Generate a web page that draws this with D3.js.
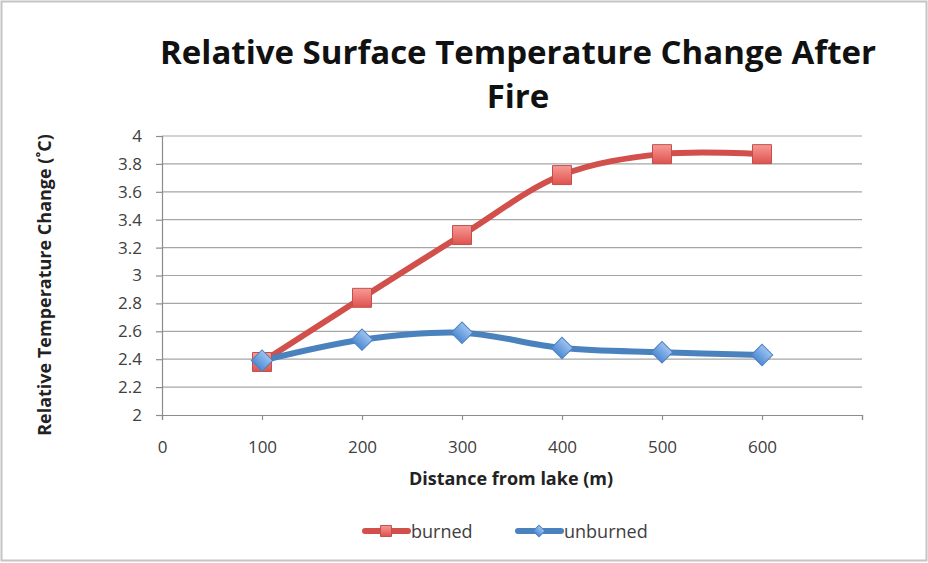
<!DOCTYPE html>
<html><head><meta charset="utf-8">
<script src="https://cdn.jsdelivr.net/npm/d3@7"></script>
<style>body{margin:0;background:#fff}svg{display:block}</style>
</head><body><svg id="c" width="928" height="563"></svg>
<script>
const distances = [100, 200, 300, 400, 500, 600];
const burned = [2.38, 2.84, 3.29, 3.72, 3.87, 3.87];
const unburned = [2.39, 2.54, 2.59, 2.48, 2.45, 2.43];
const xTicks = [0, 100, 200, 300, 400, 500, 600, 700];
const xTickLabels = ["0", "100", "200", "300", "400", "500", "600", ""];
const yTicks = [2, 2.2, 2.4, 2.6, 2.8, 3, 3.2, 3.4, 3.6, 3.8, 4];
const titleLines = ["Relative Surface Temperature Change After", "Fire"];

const svg = d3.select("#c");
const font = "'Open Sans', Lato, sans-serif";
const W = 928, H = 563;
const L = 162, R = 862, T = 136, B = 415;

svg.append("rect").attr("x", 1.5).attr("y", 1.5).attr("width", W - 3).attr("height", H - 4)
  .attr("fill", "#fff").attr("stroke", "#c4c4c4").attr("stroke-width", 2);

const x = d3.scaleLinear().domain([0, 700]).range([L, R]);
const y = d3.scaleLinear().domain([2, 4]).range([B, T]);

// gridlines
svg.append("g").selectAll("line").data(yTicks.slice(1)).join("line")
  .attr("x1", L).attr("x2", R).attr("y1", d => y(d)).attr("y2", d => y(d))
  .attr("stroke", "#a6a6a6").attr("stroke-width", 1.2);

// y axis
const ya = svg.append("g").attr("transform", `translate(${L},0)`)
  .call(d3.axisLeft(y).tickValues(yTicks).tickSize(6).tickPadding(14).tickFormat(d => String(+d.toFixed(1))));
ya.select(".domain").attr("stroke", "#8c8c8c").attr("stroke-width", 1.2);
ya.selectAll(".tick line").attr("stroke", "#8c8c8c").attr("stroke-width", 1.2);
ya.selectAll("text").attr("font-family", font).attr("font-size", 17).attr("fill", "#404040");

// x axis
const xa = svg.append("g").attr("transform", `translate(0,${B})`)
  .call(d3.axisBottom(x).tickValues(xTicks).tickSize(5).tickPadding(21).tickFormat((d, i) => xTickLabels[i]));
xa.select(".domain").attr("stroke", "#8c8c8c").attr("stroke-width", 1.2);
xa.selectAll(".tick line").attr("stroke", "#8c8c8c").attr("stroke-width", 1.2);
xa.selectAll("text").attr("font-family", font).attr("font-size", 17).attr("fill", "#404040");

// title
svg.append("g").selectAll("text").data(titleLines).join("text")
  .attr("x", 518).attr("y", (d, i) => 64 + i * 44)
  .attr("text-anchor", "middle").attr("font-family", font).attr("font-weight", "bold")
  .attr("font-size", 33).attr("fill", "#111").text(d => d);

// axis titles
svg.append("text").attr("transform", "translate(51,285) rotate(-90)")
  .attr("text-anchor", "middle").attr("font-family", font).attr("font-weight", "bold")
  .attr("font-size", 18).attr("fill", "#222").text("Relative Temperature Change (˚C)");
svg.append("text").attr("x", 511).attr("y", 485)
  .attr("text-anchor", "middle").attr("font-family", font).attr("font-weight", "bold")
  .attr("font-size", 18).attr("fill", "#222").text("Distance from lake (m)");

const defs = svg.append("defs");
const gR = defs.append("linearGradient").attr("id", "gr").attr("x1", 0).attr("y1", 0).attr("x2", 0).attr("y2", 1);
gR.append("stop").attr("offset", 0).attr("stop-color", "#f79a96");
gR.append("stop").attr("offset", 1).attr("stop-color", "#e0524d");
const gB = defs.append("linearGradient").attr("id", "gb").attr("x1", 0).attr("y1", 0).attr("x2", 0).attr("y2", 1);
gB.append("stop").attr("offset", 0).attr("stop-color", "#9cc3f0");
gB.append("stop").attr("offset", 1).attr("stop-color", "#4f8ad4");

const series = [
  {name: "burned", vals: burned, color: "#d2504b", marker: d3.symbolSquare, size: 360, fill: "url(#gr)", stroke: "#c0504d", rot: 0},
  {name: "unburned", vals: unburned, color: "#4a82be", marker: d3.symbolSquare, size: 230, fill: "url(#gb)", stroke: "#4f81bd", rot: 45}
];

const line = d3.line().curve(d3.curveCatmullRom.alpha(0.5)).x(d => x(d[0])).y(d => y(d[1]));

series.forEach(s => {
  const pts = distances.map((d, i) => [d, s.vals[i]]);
  svg.append("path").datum(pts).attr("d", line).attr("fill", "none")
    .attr("stroke", s.color).attr("stroke-width", 6).attr("stroke-linecap", "round");
});
series.forEach(s => {
  const pts = distances.map((d, i) => [d, s.vals[i]]);
  svg.append("g").selectAll("path").data(pts).join("path")
    .attr("d", d3.symbol().type(s.marker).size(s.size))
    .attr("transform", d => `translate(${x(d[0])},${y(d[1])}) rotate(${s.rot})`)
    .attr("fill", s.fill).attr("stroke", s.stroke).attr("stroke-width", 1);
});

// legend
const leg = [{s: series[0], x0: 362}, {s: series[1], x0: 515}];
leg.forEach(l => {
  const g = svg.append("g");
  g.append("line").attr("x1", l.x0 + 3).attr("x2", l.x0 + 46).attr("y1", 531).attr("y2", 531)
    .attr("stroke", l.s.color).attr("stroke-width", 6).attr("stroke-linecap", "round");
  g.append("path").attr("d", d3.symbol().type(l.s.marker).size(l.s.rot ? 70 : 120))
    .attr("transform", `translate(${l.x0 + 24},531) rotate(${l.s.rot})`)
    .attr("fill", l.s.fill).attr("stroke", l.s.stroke);
  g.append("text").attr("x", l.x0 + 49).attr("y", 538).attr("font-family", font)
    .attr("font-size", 18).attr("fill", "#404040").text(l.s.name);
});
</script></body></html>
